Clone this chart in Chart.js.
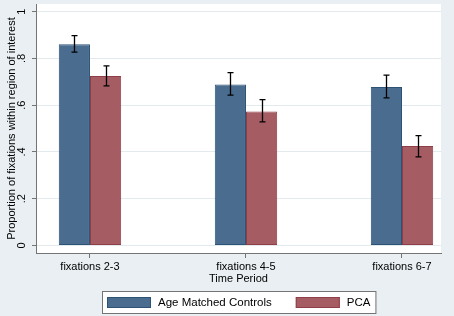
<!DOCTYPE html>
<html>
<head>
<meta charset="utf-8">
<script src="https://cdn.jsdelivr.net/npm/chart.js@4.4.1/dist/chart.umd.min.js"></script>
<style>
  html, body { margin: 0; padding: 0; background: #e9eff2; }
  #wrap { width: 454px; height: 316px; }
</style>
</head>
<body>
<div id="wrap"><canvas id="myChart"></canvas></div>
<script>
const periods = ['fixations 2-3', 'fixations 4-5', 'fixations 6-7'];
const controls = [0.861, 0.688, 0.678];
const controlsLow = [0.827, 0.643, 0.631];
const controlsHigh = [0.898, 0.739, 0.729];
const pca = [0.725, 0.573, 0.425];
const pcaLow = [0.683, 0.529, 0.379];
const pcaHigh = [0.768, 0.624, 0.470];
const yTicks = [0, 0.2, 0.4, 0.6, 0.8, 1];
const yTickLabels = ['0', '.2', '.4', '.6', '.8', '1'];

const FONT = { family: "'Liberation Sans', Arial, sans-serif", size: 11 };
const AXIS_GREY = '#747474';

// light blue graph region + white plot region, Stata style
const backgroundPlugin = {
  id: 'stataBackground',
  beforeDraw(chart) {
    const { ctx, chartArea: a } = chart;
    ctx.save();
    ctx.fillStyle = '#e9eff2';
    ctx.fillRect(0, 0, chart.width, chart.height);
    ctx.fillStyle = '#ffffff';
    ctx.fillRect(a.left, a.top, a.right - a.left, a.bottom - a.top);
    ctx.restore();
  }
};

const errorBarPlugin = {
  id: 'errorBars',
  afterDatasetsDraw(chart) {
    const { ctx } = chart;
    const yScale = chart.scales.y;
    ctx.save();
    ctx.strokeStyle = '#000';
    ctx.lineWidth = 1.3;
    chart.data.datasets.forEach((ds, i) => {
      const meta = chart.getDatasetMeta(i);
      meta.data.forEach((bar, j) => {
        const hi = yScale.getPixelForValue(ds.errHigh[j]);
        const lo = yScale.getPixelForValue(ds.errLow[j]);
        const x = Math.round(bar.x) + 0.5;
        ctx.beginPath();
        ctx.moveTo(x, hi);
        ctx.lineTo(x, lo);
        ctx.moveTo(x - 3, hi);
        ctx.lineTo(x + 3, hi);
        ctx.moveTo(x - 3, lo);
        ctx.lineTo(x + 3, lo);
        ctx.stroke();
      });
    });
    ctx.restore();
  }
};

// boxed legend centred under the plot region
const legendPlugin = {
  id: 'boxLegend',
  afterDraw(chart) {
    const { ctx, chartArea: a } = chart;
    const sw = 44, sh = 11, gap = 7, itemGap = 24, pad = 5;
    ctx.save();
    ctx.font = `11.5px ${FONT.family}`;
    const items = chart.data.datasets.map(ds => ({
      ds, w: ctx.measureText(ds.label).width
    }));
    let total = pad * 2;
    items.forEach((it, i) => { total += sw + gap + it.w + (i ? itemGap : 0); });
    const top = a.bottom + 38;
    const h = 22;
    const left = Math.round((a.left + a.right) / 2 - total / 2);
    ctx.fillStyle = '#ffffff';
    ctx.fillRect(left, top, total, h);
    ctx.strokeStyle = AXIS_GREY;
    ctx.lineWidth = 1;
    ctx.strokeRect(left + 0.5, top + 0.5, total, h);
    let x = left + pad;
    items.forEach((it, i) => {
      if (i) x += itemGap;
      ctx.fillStyle = it.ds.backgroundColor;
      ctx.fillRect(x, top + 6, sw, sh);
      ctx.strokeStyle = it.ds.borderColor;
      ctx.strokeRect(x + 0.5, top + 6.5, sw - 1, sh - 1);
      x += sw + gap;
      ctx.fillStyle = '#000';
      ctx.textBaseline = 'middle';
      ctx.textAlign = 'left';
      ctx.fillText(it.ds.label, x, top + h / 2 + 1);
      x += it.w;
    });
    ctx.restore();
  }
};

const data = {
  datasets: [
    {
      label: 'Age Matched Controls',
      data: controls.map((v, i) => ({ x: i + 1, y: v })),
      errLow: controlsLow,
      errHigh: controlsHigh,
      backgroundColor: '#4a6d8f',
      borderColor: '#2c5276',
      borderWidth: 1,
      borderSkipped: false,
    },
    {
      label: 'PCA',
      data: pca.map((v, i) => ({ x: i + 1, y: v })),
      errLow: pcaLow,
      errHigh: pcaHigh,
      backgroundColor: '#a55c62',
      borderColor: '#8f3e48',
      borderWidth: 1,
      borderSkipped: false,
    },
  ],
};

const config = {
  type: 'bar',
  data: data,
  plugins: [backgroundPlugin, errorBarPlugin, legendPlugin],
  options: {
    responsive: true,
    maintainAspectRatio: false,
    animation: false,
    devicePixelRatio: 1,
    categoryPercentage: 0.4,
    barPercentage: 1,
    layout: { padding: { top: 4, right: 13, bottom: 30, left: 2 } },
    plugins: {
      legend: { display: false },
      tooltip: { enabled: false },
    },
    scales: {
      x: {
        type: 'linear',
        offset: false,
        min: 0.654,
        max: 3.25,
        afterBuildTicks: scale => {
          scale.ticks = periods.map((p, i) => ({ value: i + 1 }));
        },
        afterFit: scale => {
          scale.height = 33;
          scale.paddingLeft = 0;
          scale.paddingRight = 0;
        },
        grid: { offset: false, drawOnChartArea: false, tickColor: AXIS_GREY, tickLength: 5 },
        border: { color: AXIS_GREY },
        ticks: {
          font: FONT,
          color: '#000',
          padding: 2,
          maxRotation: 0,
          callback: v => periods[v - 1],
        },
        title: {
          display: true,
          text: 'Time Period',
          font: FONT,
          color: '#000',
          padding: 0,
        },
      },
      y: {
        min: -0.0325,
        max: 1.033,
        afterBuildTicks: scale => {
          scale.ticks = yTicks.map(v => ({ value: v }));
        },
        afterFit: scale => {
          scale.width = 34;
          scale.paddingTop = 0;
          scale.paddingBottom = 0;
        },
        grid: { color: '#e2eaed', tickColor: AXIS_GREY, tickLength: 4 },
        border: { color: AXIS_GREY },
        ticks: {
          font: FONT,
          color: '#000',
          padding: 5,
          minRotation: 90,
          maxRotation: 90,
          crossAlign: 'center',
          callback: (v, i) => yTickLabels[yTicks.indexOf(v)],
        },
        title: {
          display: true,
          text: 'Proportion of fixations within region of interest',
          font: FONT,
          color: '#000',
          padding: { top: 3, bottom: 0 },
        },
      },
    },
  },
};

const myChart = new Chart(document.getElementById('myChart'), config);
</script>
</body>
</html>
